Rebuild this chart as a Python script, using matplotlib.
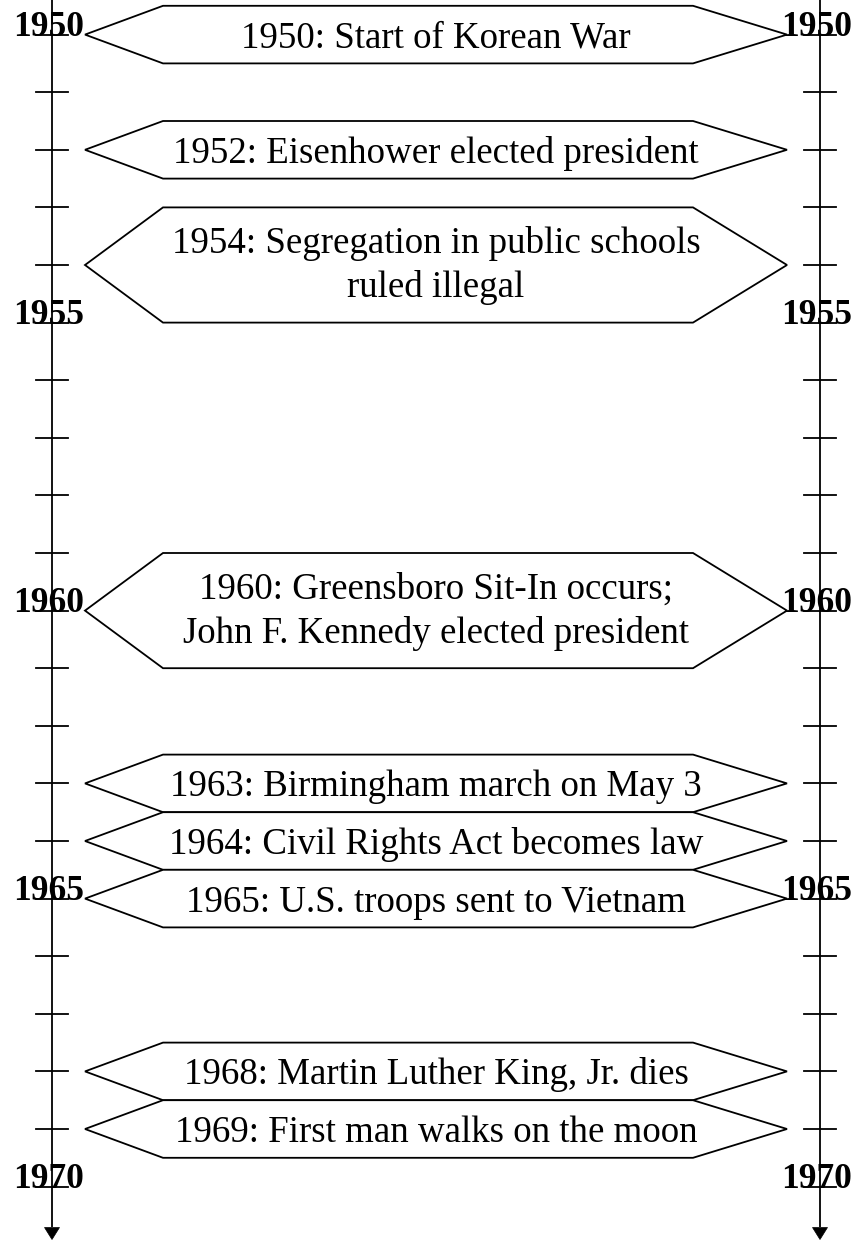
import matplotlib
matplotlib.use("Agg")
import matplotlib.pyplot as plt
from matplotlib.patches import Polygon

# ---- data ----
event_years = [1950, 1952, 1954, 1960, 1963, 1964, 1965, 1968, 1969]
event_texts = [
    "1950: Start of Korean War",
    "1952: Eisenhower elected president",
    "1954: Segregation in public schools\nruled illegal",
    "1960: Greensboro Sit-In occurs;\nJohn F. Kennedy elected president",
    "1963: Birmingham march on May 3",
    "1964: Civil Rights Act becomes law",
    "1965: U.S. troops sent to Vietnam",
    "1968: Martin Luther King, Jr. dies",
    "1969: First man walks on the moon",
]
tick_years = list(range(1950, 1971))
label_years = [1950, 1955, 1960, 1965, 1970]

# ---- layout (pixels / years) ----
W, H = 867, 1241
PX_PER_YEAR = 57.6
Y0_PX = 34.6
y_top = 1950 - Y0_PX / PX_PER_YEAR
y_bot = y_top + H / PX_PER_YEAR
axis_x = [52, 820]
tick_half = 16
tip_l, sh_l, sh_r, tip_r = 85, 163, 693, 787
serif = ["Liberation Serif", "DejaVu Serif"]

fig = plt.figure(figsize=(W / 100, H / 100), dpi=100)
ax = fig.add_axes([0, 0, 1, 1])
ax.set_xlim(0, W)
ax.set_ylim(y_bot, y_top)
ax.axis("off")

# timeline axes with arrow heads
arrow_len = 12 / PX_PER_YEAR
end_y = y_bot - 1.5 / PX_PER_YEAR
for x in axis_x:
    ax.plot([x, x], [y_top, end_y - arrow_len], color="black", lw=1.3, zorder=1,
            solid_capstyle="butt")
    ax.add_patch(Polygon([[x - 7.5, end_y - arrow_len], [x + 7.5, end_y - arrow_len], [x, end_y]],
                         closed=True, facecolor="black", edgecolor="black", lw=0.5, zorder=1))
    for yr in tick_years:
        ax.plot([x - tick_half, x + tick_half], [yr, yr], color="black", lw=1.3, zorder=1)
    for yr in label_years:
        ax.text(x - 3, yr + 0.02, str(yr), ha="center", va="baseline", fontsize=25.5,
                fontweight="bold", family=serif, zorder=5)

# event hexagons
single_offset = 13 / PX_PER_YEAR
double_offsets = [-12 / PX_PER_YEAR, 32 / PX_PER_YEAR]
for yr, txt in zip(event_years, event_texts):
    lines = txt.split("\n")
    h = 0.5 * len(lines)
    pts = [[tip_l, yr], [sh_l, yr - h], [sh_r, yr - h], [tip_r, yr],
           [sh_r, yr + h], [sh_l, yr + h]]
    ax.add_patch(Polygon(pts, closed=True, facecolor="white", edgecolor="black",
                         lw=1.3, zorder=3))
    offs = [single_offset] if len(lines) == 1 else double_offsets
    for line, off in zip(lines, offs):
        ax.text((tip_l + tip_r) / 2, yr + off, line, ha="center", va="baseline",
                fontsize=26.6, family=serif, zorder=4)

fig.savefig("out.png", dpi=100)
